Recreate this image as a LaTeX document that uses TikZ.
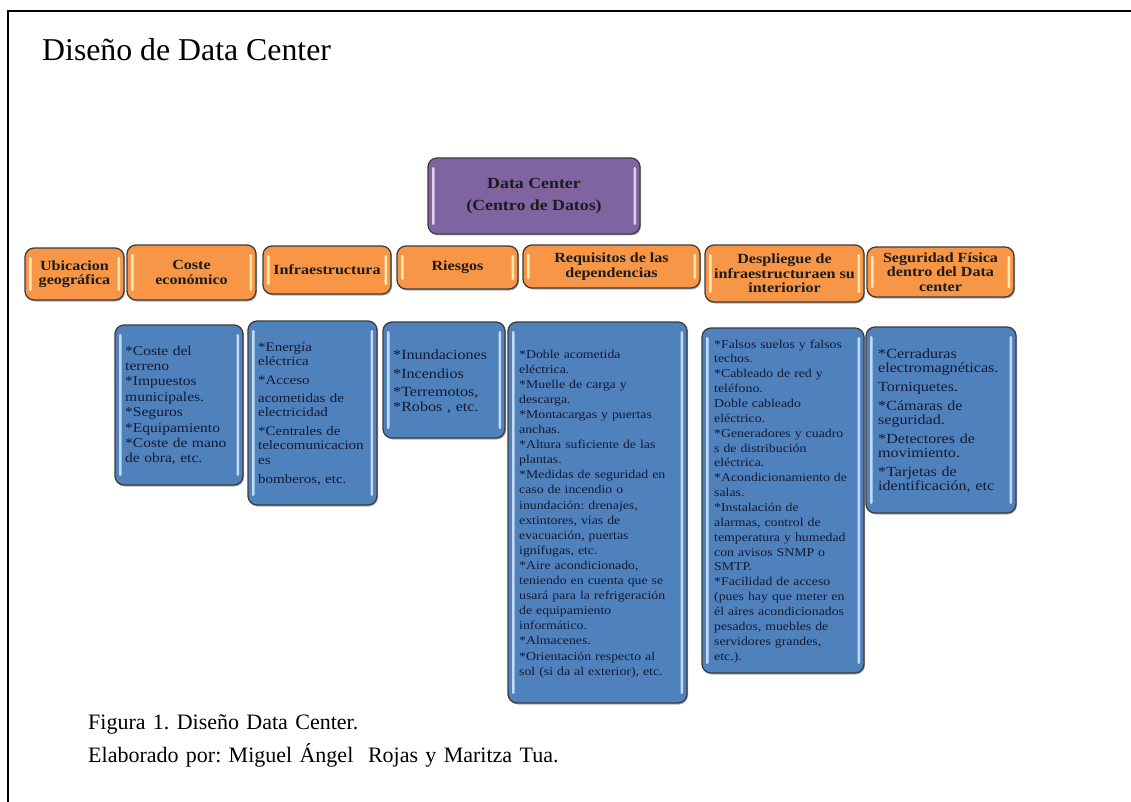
\documentclass[tikz,border=0pt]{standalone}
\usepackage{fontspec}
\setmainfont{Liberation Serif}
\newfontfamily\boxfont[FakeStretch=1.15]{Liberation Serif}
\usetikzlibrary{shadows}
\frenchspacing

\definecolor{dcpurple}{HTML}{8064A2}
\definecolor{dchi}{HTML}{DCD0EA}
\definecolor{catorange}{HTML}{F79646}
\definecolor{cathi}{HTML}{FFEBB8}
\definecolor{detblue}{HTML}{4F81BD}
\definecolor{dethi}{HTML}{C2D9F4}
\definecolor{edgegray}{HTML}{3C3C3C}
\definecolor{labelink}{HTML}{1C1C1C}
\definecolor{bodyink}{HTML}{141A33}

\tikzset{
  glossbox/.style={draw=edgegray, line width=1.3pt, rounded corners=9pt, inner sep=0pt,
    drop shadow={shadow xshift=1pt, shadow yshift=-1.5pt, fill=black, opacity=0.3},
    path picture={
      \fill[#1, rounded corners=1.2pt]
        ([xshift=4pt,yshift=-9pt]path picture bounding box.north west) rectangle
        ([xshift=6.5pt,yshift=9pt]path picture bounding box.south west);
      \fill[#1, rounded corners=1.2pt]
        ([xshift=-6.5pt,yshift=-9pt]path picture bounding box.north east) rectangle
        ([xshift=-4pt,yshift=9pt]path picture bounding box.south east);
    }},
  rootbox/.style={glossbox=dchi, fill=dcpurple, align=center, text=labelink,
    font={\boxfont\bfseries\fontsize{15.5}{22}\selectfont}},
  catbox/.style={glossbox=cathi, fill=catorange, align=center, text=labelink,
    font={\boxfont\bfseries\fontsize{14}{14.6}\selectfont}},
  detbox/.style={glossbox=dethi, fill=detblue},
  bodytext/.style={anchor=base west, inner sep=0pt, text width=240pt, align=left, text=bodyink},
}

% box from (x1,y1) to (x2,y2): name, x1, y1, x2, y2, style, text
\newcommand\glossnode[7]{%
  \node[#6, minimum width={(#4-#2)*1pt}, minimum height={(#5-#3)*1pt}]
    (#1) at ({(#2+#4)/2},{(#3+#5)/2}) {#7};}

\begin{document}
\begin{tikzpicture}[x=1pt, y=-1pt]
\useasboundingbox (0,0) rectangle (1131,802);

% page frame
\draw[line width=1.8pt] (8,802) -- (8,11) -- (1131,11);

% heading
\node[anchor=base west, inner sep=0pt, font=\fontsize{31.8}{34}\selectfont] (title) at (42,61) {Diseño de Data Center};

% root
\glossnode{root}{428}{158}{640}{234}{rootbox}{Data Center\\(Centro de Datos)}

% categories
\glossnode{c1}{25}{248}{124}{300}{catbox}{Ubicacion\\geográfica}
\glossnode{c2}{127}{245}{256}{300}{catbox}{Coste\\económico}
\glossnode{c3}{263}{246}{391}{294}{catbox}{Infraestructura}
\glossnode{c4}{397}{246}{518}{289}{catbox}{Riesgos}
\glossnode{c5}{523}{245}{700}{288}{catbox}{Requisitos de las\\dependencias}
\glossnode{c6}{705}{245}{864}{302}{catbox}{Despliegue de\\infraestructuraen su\\interiorior}
\glossnode{c7}{867}{247}{1014}{297}{catbox}{Seguridad Física\\dentro del Data\\center}

% detail boxes
\glossnode{d1}{115}{325}{243}{485}{detbox}{}
\glossnode{d2}{248}{321}{377}{505}{detbox}{}
\glossnode{d3}{383}{322}{505}{438}{detbox}{}
\glossnode{d4}{508}{322}{687}{703}{detbox}{}
\glossnode{d5}{702}{328}{864}{673}{detbox}{}
\glossnode{d6}{866}{327}{1016}{513}{detbox}{}

% detail texts
\node[bodytext, font={\boxfont\fontsize{13.5}{15.4}\selectfont}] (t1) at (125,355)
  {*Coste del\\terreno\\{}*Impuestos\\municipales.\\{}*Seguros\\{}*Equipamiento\\{}*Coste de mano\\de obra, etc.};

\node[bodytext, font={\boxfont\fontsize{13}{14.4}\selectfont}] (t2) at (258,351)
  {*Energía\\eléctrica\\[4.5pt]{}*Acceso\\[3.5pt]acometidas de\\electricidad\\[4.5pt]{}*Centrales de\\telecomunicacion\\es\\[4.5pt]bomberos, etc.};

\node[bodytext, font={\boxfont\fontsize{14}{15}\selectfont}] (t3) at (393,359)
  {*Inundaciones\\[4pt]{}*Incendios\\[3pt]{}*Terremotos,\\{}*Robos , etc.};

\node[bodytext, font={\boxfont\fontsize{12}{15.1}\selectfont}] (t4) at (519,358)
  {*Doble acometida\\eléctrica.\\{}*Muelle de carga y\\descarga.\\{}*Montacargas y puertas\\anchas.\\{}*Altura suficiente de las\\plantas.\\{}*Medidas de seguridad en\\caso de incendio o\\inundación: drenajes,\\extintores, vías de\\evacuación, puertas\\ignífugas, etc.\\{}*Aire acondicionado,\\teniendo en cuenta que se\\usará para la refrigeración\\de equipamiento\\informático.\\{}*Almacenes.\\{}*Orientación respecto al\\sol (si da al exterior), etc.};

\node[bodytext, font={\boxfont\fontsize{12}{14.86}\selectfont}] (t5) at (714,348)
  {*Falsos suelos y falsos\\techos.\\{}*Cableado de red y\\teléfono.\\Doble cableado\\eléctrico.\\{}*Generadores y cuadro\\s de distribución\\eléctrica.\\{}*Acondicionamiento de\\salas.\\{}*Instalación de\\alarmas, control de\\temperatura y humedad\\con avisos SNMP o\\SMTP.\\{}*Facilidad de acceso\\(pues hay que meter en\\él aires acondicionados\\pesados, muebles de\\servidores grandes,\\etc.).};

\node[bodytext, font={\boxfont\fontsize{14}{14}\selectfont}] (t6) at (878,358)
  {*Cerraduras\\electromagnéticas.\\[5pt]Torniquetes.\\[5pt]{}*Cámaras de\\seguridad.\\[5.5pt]{}*Detectores de\\movimiento.\\[5pt]{}*Tarjetas de\\identificación, etc};

% caption
\node[anchor=base west, inner sep=0pt, align=left, text width=700pt,
      font=\fontsize{22}{33}\selectfont] (caption) at (88,729)
  {Figura 1. Diseño Data Center.\\Elaborado por: Miguel Ángel\ \ Rojas y Maritza Tua.};
\end{tikzpicture}
\end{document}
